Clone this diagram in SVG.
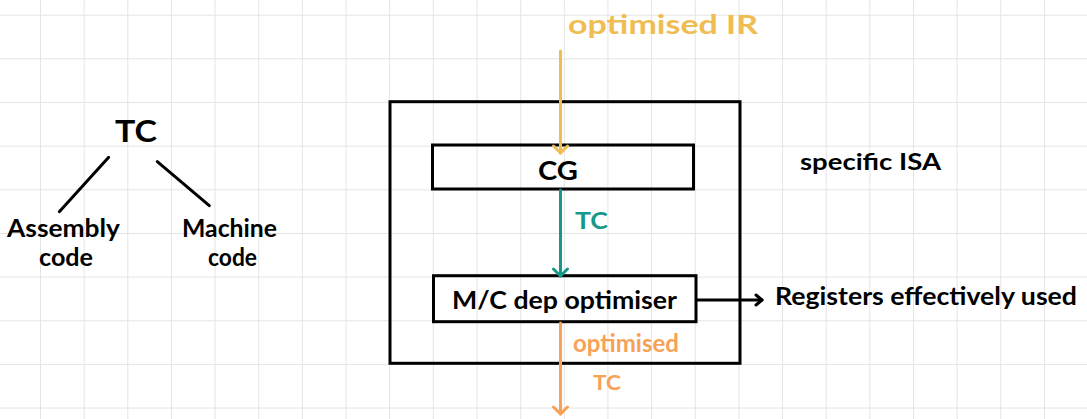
<svg xmlns="http://www.w3.org/2000/svg" width="1087" height="419" viewBox="0 0 1087 419">
<defs>
<pattern id="grid" x="40" y="14.7" width="43.65" height="43.65" patternUnits="userSpaceOnUse">
<path d="M0,0 V43.65 M0,0 H43.65" fill="none" stroke="#e4e4e4" stroke-width="2"/>
</pattern>
<marker id="ah-y" viewBox="-9 -9 11 18" markerWidth="11" markerHeight="18" refX="0" refY="0" orient="auto" markerUnits="userSpaceOnUse"><path d="M-7,-7 L0,0 L-7,7" fill="none" stroke="#efbd52" stroke-width="3" stroke-linecap="round" stroke-linejoin="round"/></marker>
<marker id="ah-t" viewBox="-9 -9 11 18" markerWidth="11" markerHeight="18" refX="0" refY="0" orient="auto" markerUnits="userSpaceOnUse"><path d="M-7,-7 L0,0 L-7,7" fill="none" stroke="#17988a" stroke-width="3" stroke-linecap="round" stroke-linejoin="round"/></marker>
<marker id="ah-o" viewBox="-9 -9 11 18" markerWidth="11" markerHeight="18" refX="0" refY="0" orient="auto" markerUnits="userSpaceOnUse"><path d="M-7,-7 L0,0 L-7,7" fill="none" stroke="#f7a257" stroke-width="3" stroke-linecap="round" stroke-linejoin="round"/></marker>
<marker id="ah-k" viewBox="-9 -9 11 18" markerWidth="11" markerHeight="18" refX="0" refY="0" orient="auto" markerUnits="userSpaceOnUse"><path d="M-6,-5 L0,0 L-6,5" fill="none" stroke="#000" stroke-width="3" stroke-linecap="round" stroke-linejoin="round"/></marker>
</defs>
<style>
text { font-family: "Lato", "Noto Sans", sans-serif; font-weight: bold; fill: #000; }
.box { fill: none; stroke: #000; stroke-width: 3; }
.y { fill: #efbd52; }
.t { fill: #17988a; }
.o { fill: #f7a257; }
</style>
<rect width="1087" height="419" fill="#fff"/>
<rect width="1087" height="419" fill="url(#grid)"/>

<g id="tree">
<text x="136" y="142" font-size="31" text-anchor="middle" textLength="42" lengthAdjust="spacingAndGlyphs">TC</text>
<line x1="108.7" y1="157.3" x2="59.3" y2="211.7" stroke="#000" stroke-width="3" stroke-linecap="round"/>
<line x1="157.3" y1="161.7" x2="209.3" y2="205.7" stroke="#000" stroke-width="3" stroke-linecap="round"/>
<text x="7" y="237" font-size="25" textLength="113" lengthAdjust="spacingAndGlyphs">Assembly</text>
<text x="39" y="266" font-size="25" textLength="54" lengthAdjust="spacingAndGlyphs">code</text>
<text x="182" y="237" font-size="25" textLength="95" lengthAdjust="spacingAndGlyphs">Machine</text>
<text x="208" y="266" font-size="25" textLength="49" lengthAdjust="spacingAndGlyphs">code</text>
</g>

<g id="outer">
<rect class="box" x="390" y="101.7" width="350" height="261.6"/>
</g>
<g id="cg">
<rect class="box" x="432.5" y="145" width="261" height="44"/>
<text x="558" y="180" font-size="27" text-anchor="middle" textLength="40" lengthAdjust="spacingAndGlyphs">CG</text>
</g>
<g id="mcdep">
<rect class="box" x="433.5" y="275.7" width="262.5" height="46"/>
<text x="452" y="309" font-size="24" textLength="225" lengthAdjust="spacingAndGlyphs">M/C dep optimiser</text>
</g>
<g id="isa">
<text x="800" y="170" font-size="22" textLength="141" lengthAdjust="spacingAndGlyphs">specific ISA</text>
</g>
<g id="regs">
<text x="775" y="305" font-size="24" textLength="302" lengthAdjust="spacingAndGlyphs">Registers effectively used</text>
</g>
<g id="labels">
<text class="y" x="568" y="34" font-size="27" textLength="190" lengthAdjust="spacingAndGlyphs">optimised IR</text>
<text class="t" x="575" y="229" font-size="23" textLength="33" lengthAdjust="spacingAndGlyphs">TC</text>
<text class="o" x="573" y="352" font-size="25" textLength="106" lengthAdjust="spacingAndGlyphs">optimised</text>
<text class="o" x="593" y="390" font-size="20" textLength="28" lengthAdjust="spacingAndGlyphs">TC</text>
</g>

<g id="connectors" fill="none" stroke-width="3" stroke-linecap="round">
<line x1="560.5" y1="51" x2="560.5" y2="153" stroke="#efbd52" marker-end="url(#ah-y)"/>
<line x1="560.5" y1="190" x2="560.5" y2="276" stroke="#17988a" marker-end="url(#ah-t)"/>
<line x1="560.5" y1="323" x2="560.5" y2="414" stroke="#f7a257" marker-end="url(#ah-o)"/>
<line x1="697" y1="300" x2="762" y2="300" stroke="#000" marker-end="url(#ah-k)"/>
</g>
</svg>
